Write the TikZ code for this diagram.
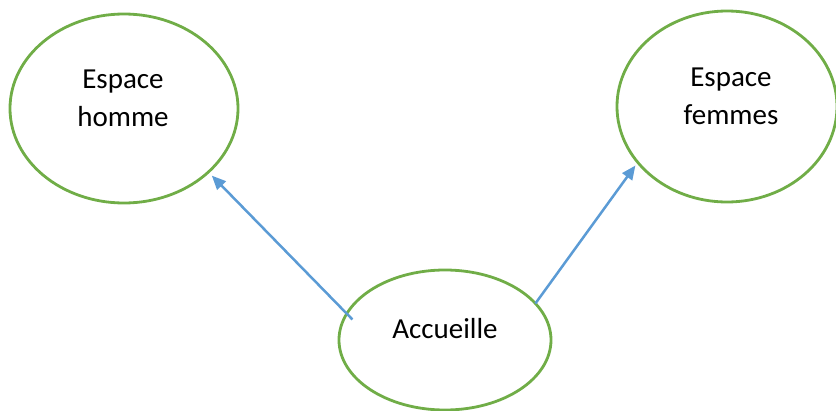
\documentclass[tikz,border=0pt]{standalone}
\usepackage{fontspec}
\setmainfont{Carlito}
\usepackage{tikz}
\usetikzlibrary{shapes,arrows.meta,positioning,calc}
\definecolor{zonegreen}{RGB}{112,173,71}
\definecolor{linkblue}{RGB}{91,155,213}

\begin{document}
\begin{tikzpicture}[
    x=1pt, y=-1pt,
    >={Triangle[length=14pt,width=12pt]},
    zone/.style={draw=zonegreen, ellipse, line width=2.8pt, inner sep=0pt, outer sep=0pt},
    txt/.style={align=center, inner sep=0pt, font=\fontsize{29}{38}\selectfont},
    link/.style={->, draw=linkblue, fill=linkblue, line width=2.5pt}
]
    \useasboundingbox (0,0) rectangle (836,410);

    \node[zone, minimum width=228pt, minimum height=189pt] (homme) at (124,108.5) {};
    \node[zone, minimum width=220pt, minimum height=191pt] (femmes) at (727,106.5) {};
    \node[zone, minimum width=212pt, minimum height=140pt] (acc) at (445,340) {};

    \node[txt] (hommeT) at (123,98) {Espace\\homme};
    \node[txt] (femmesT) at (731,96) {Espace\\femmes};
    \node[txt] (accT) at (445,329) {Accueille};

    \draw[link, shorten <=-8pt, shorten >=5pt] (acc.165) -- (homme.-37);
    \draw[link, shorten >=4pt] (acc.22) -- (femmes.212);

\end{tikzpicture}
\end{document}
